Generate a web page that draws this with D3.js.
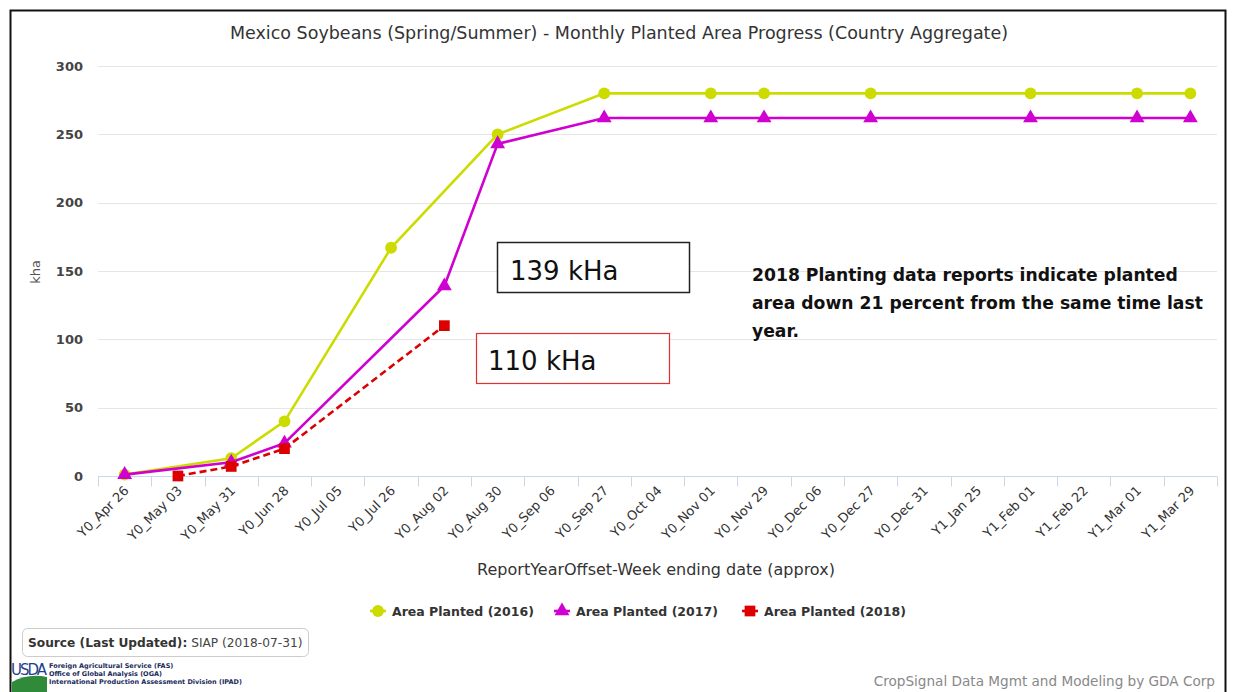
<!DOCTYPE html>
<html>
<head>
<meta charset="utf-8">
<script src="https://cdn.jsdelivr.net/npm/d3@7"></script>
<style>
  body { margin: 0; background: #fff; }
  svg { display: block; }
  text { font-family: "DejaVu Sans", Verdana, sans-serif; }
</style>
</head>
<body>
<div id="main"></div>
<script>
var categories = ['Y0_Apr 26', 'Y0_May 03', 'Y0_May 31', 'Y0_Jun 28', 'Y0_Jul 05', 'Y0_Jul 26', 'Y0_Aug 02',
  'Y0_Aug 30', 'Y0_Sep 06', 'Y0_Sep 27', 'Y0_Oct 04', 'Y0_Nov 01', 'Y0_Nov 29', 'Y0_Dec 06', 'Y0_Dec 27',
  'Y0_Dec 31', 'Y1_Jan 25', 'Y1_Feb 01', 'Y1_Feb 22', 'Y1_Mar 01', 'Y1_Mar 29'];

// only the weeks that have a reading for each year
var dates2016 = ['Y0_Apr 26', 'Y0_May 31', 'Y0_Jun 28', 'Y0_Jul 26', 'Y0_Aug 30', 'Y0_Sep 27', 'Y0_Nov 01', 'Y0_Nov 29', 'Y0_Dec 27', 'Y1_Feb 01', 'Y1_Mar 01', 'Y1_Mar 29'];
var values2016 = [1, 13, 40, 167, 250, 280, 280, 280, 280, 280, 280, 280];

var dates2017 = ['Y0_Apr 26', 'Y0_May 31', 'Y0_Jun 28', 'Y0_Aug 02', 'Y0_Aug 30', 'Y0_Sep 27', 'Y0_Nov 01', 'Y0_Nov 29', 'Y0_Dec 27', 'Y1_Feb 01', 'Y1_Mar 01', 'Y1_Mar 29'];
var values2017 = [1, 10, 24, 139, 243, 262, 262, 262, 262, 262, 262, 262];

var dates2018 = ['Y0_May 03', 'Y0_May 31', 'Y0_Jun 28', 'Y0_Aug 02'];
var values2018 = [0, 7, 20, 110];

var yTicks = [0, 50, 100, 150, 200, 250, 300];

var series = [
  { name: 'Area Planted (2016)', dates: dates2016, values: values2016, color: '#ccdc00', symbol: d3.symbolCircle, size: 110, dash: null },
  { name: 'Area Planted (2017)', dates: dates2017, values: values2017, color: '#d000d0', symbol: d3.symbolTriangle, size: 95, dash: null },
  { name: 'Area Planted (2018)', dates: dates2018, values: values2018, color: '#dd0000', symbol: d3.symbolSquare, size: 115, dash: '7,4' }
];

var width = 1233,
    height = 692;

var svg = d3.select("#main").append("svg")
    .attr("width", width)
    .attr("height", height);

svg.append("rect").attr("width", width).attr("height", height).attr("fill", "#fff");

// outer frame
svg.append("rect")
    .attr("x", 10.5).attr("y", 10.5)
    .attr("width", 1215).attr("height", 700)
    .attr("fill", "none").attr("stroke", "#111").attr("stroke-width", 2);

var plotLeft = 98, plotRight = 1217, plotTop = 66, plotBottom = 476;

var x = d3.scaleBand().domain(categories).range([plotLeft, plotRight]);
var y = d3.scaleLinear().domain([0, 300]).range([plotBottom, plotTop]);

function cx(d) { return x(d) + x.bandwidth() / 2; }

// title
svg.append("text")
    .attr("x", 619).attr("y", 39)
    .attr("text-anchor", "middle")
    .attr("font-size", "17.5px")
    .attr("fill", "#333")
    .text("Mexico Soybeans (Spring/Summer) - Monthly Planted Area Progress (Country Aggregate)");

// grid
svg.append("g")
  .selectAll("line")
  .data(yTicks.slice(1))
  .enter().append("line")
    .attr("x1", plotLeft).attr("x2", plotRight)
    .attr("y1", function(d) { return Math.round(y(d)) + 0.5; })
    .attr("y2", function(d) { return Math.round(y(d)) + 0.5; })
    .attr("stroke", "#e6e6e6");

// y axis
var yAxis = d3.axisLeft(y).tickValues(yTicks).tickSize(0).tickPadding(15);
var yg = svg.append("g")
    .attr("transform", "translate(" + plotLeft + ",0)")
    .call(yAxis);
yg.select(".domain").remove();
yg.selectAll("text")
    .attr("font-family", "DejaVu Sans")
    .attr("font-size", "13px")
    .attr("font-weight", "bold")
    .attr("fill", "#444");

svg.append("text")
    .attr("transform", "translate(40,272) rotate(-90)")
    .attr("text-anchor", "middle")
    .attr("font-size", "13px")
    .attr("fill", "#555")
    .text("kha");

// x axis
var xg = svg.append("g")
    .attr("transform", "translate(0," + (plotBottom + 0.5) + ")");
xg.append("line")
    .attr("x1", plotLeft).attr("x2", plotRight)
    .attr("stroke", "#ccd6eb");
xg.selectAll(".tick")
  .data(categories.concat([null]))
  .enter().append("line")
    .attr("x1", function(d, i) { return Math.round(plotLeft + i * x.step()) + 0.5; })
    .attr("x2", function(d, i) { return Math.round(plotLeft + i * x.step()) + 0.5; })
    .attr("y1", 0).attr("y2", 10)
    .attr("stroke", "#ccd6eb");
xg.selectAll(".lbl")
  .data(categories)
  .enter().append("text")
    .attr("transform", function(d) { return "translate(" + (cx(d) + 5) + ",15) rotate(-45)"; })
    .attr("text-anchor", "end")
    .attr("font-size", "13px")
    .attr("fill", "#333")
    .text(function(d) { return d; });

svg.append("text")
    .attr("x", 656).attr("y", 575)
    .attr("text-anchor", "middle")
    .attr("font-size", "16px")
    .attr("fill", "#333")
    .text("ReportYearOffset-Week ending date (approx)");

// lines
var line = d3.line()
  .x(function(d) { return cx(d.date); })
  .y(function(d) { return y(d.value); });

series.forEach(function(s) {
  var pts = s.dates.map(function(d, i) { return { date: d, value: s.values[i] }; });
  svg.append("path")
      .datum(pts)
      .attr("d", line)
      .attr("fill", "none")
      .attr("stroke", s.color)
      .attr("stroke-width", 2.6)
      .attr("stroke-dasharray", s.dash);
  svg.append("g").selectAll("path")
    .data(pts)
    .enter().append("path")
      .attr("transform", function(d) { return "translate(" + cx(d.date) + "," + y(d.value) + ")"; })
      .attr("d", d3.symbol().type(s.symbol).size(s.size))
      .attr("fill", s.color);
});

// annotations
svg.append("rect")
    .attr("x", 497.5).attr("y", 242.5).attr("width", 192).attr("height", 50)
    .attr("fill", "#fff").attr("stroke", "#222").attr("stroke-width", 1.5);
svg.append("text")
    .attr("x", 510).attr("y", 280)
    .attr("font-family", "Liberation Sans")
    .attr("font-size", "26px")
    .attr("fill", "#111")
    .text("139 kHa");

svg.append("rect")
    .attr("x", 476.5).attr("y", 333.5).attr("width", 193).attr("height", 50)
    .attr("fill", "#fff").attr("stroke", "#e03030").attr("stroke-width", 1.2);
svg.append("text")
    .attr("x", 488).attr("y", 370)
    .attr("font-family", "Liberation Sans")
    .attr("font-size", "26px")
    .attr("fill", "#111")
    .text("110 kHa");

var note = ["2018 Planting data reports indicate planted", "area down 21 percent from the same time last", "year."];
svg.append("g").selectAll("text")
  .data(note)
  .enter().append("text")
    .attr("x", 752)
    .attr("y", function(d, i) { return 281 + i * 28; })
    .attr("font-family", "Liberation Sans")
    .attr("font-size", "17.2px")
    .attr("font-weight", "bold")
    .attr("fill", "#111")
    .text(function(d) { return d; });

// legend
var legendX = [370, 554, 742];
var legend = svg.append("g").selectAll("g")
  .data(series)
  .enter().append("g")
    .attr("transform", function(d, i) { return "translate(" + legendX[i] + ",611)"; });
legend.append("line")
    .attr("x1", 0).attr("x2", 16)
    .attr("stroke", function(d) { return d.color; })
    .attr("stroke-width", 2.6);
legend.append("path")
    .attr("transform", "translate(8,0)")
    .attr("d", function(d) { return d3.symbol().type(d.symbol).size(d.size)(); })
    .attr("fill", function(d) { return d.color; });
legend.append("text")
    .attr("x", 22).attr("y", 5)
    .attr("font-size", "12.5px")
    .attr("font-weight", "bold")
    .attr("fill", "#333")
    .text(function(d) { return d.name; });

// source box
svg.append("rect")
    .attr("x", 22.5).attr("y", 628.5).attr("width", 286).attr("height", 28).attr("rx", 5)
    .attr("fill", "#fff").attr("stroke", "#ccc");
var src = svg.append("text").attr("x", 28).attr("y", 647).attr("font-size", "12.2px").attr("fill", "#333");
src.append("tspan").attr("font-weight", "bold").text("Source (Last Updated):");
src.append("tspan").attr("fill", "#444").text(" SIAP (2018-07-31)");

// usda logo block
svg.append("path")
    .attr("d", "M12,682 Q28,673 47,677 L47,692 L12,692 Z")
    .attr("fill", "#2f8a3a");
svg.append("text")
    .attr("x", 11).attr("y", 675)
    .attr("font-family", "Liberation Serif")
    .attr("font-size", "15px")
    .attr("fill", "#1f3f8f")
    .attr("textLength", 36)
    .text("USDA");
var usda = ["Foreign Agricultural Service (FAS)", "Office of Global Analysis (OGA)", "International Production Assessment Division (IPAD)"];
svg.append("g").selectAll("text")
  .data(usda)
  .enter().append("text")
    .attr("x", 49)
    .attr("y", function(d, i) { return 668 + i * 8; })
    .attr("font-family", "Liberation Sans")
    .attr("font-size", "6.5px")
    .attr("font-weight", "bold")
    .attr("fill", "#1a2a5a")
    .text(function(d) { return d; });

svg.append("text")
    .attr("x", 1215).attr("y", 686)
    .attr("text-anchor", "end")
    .attr("font-size", "13.6px")
    .attr("fill", "#888")
    .text("CropSignal Data Mgmt and Modeling by GDA Corp");
</script>
</body>
</html>
